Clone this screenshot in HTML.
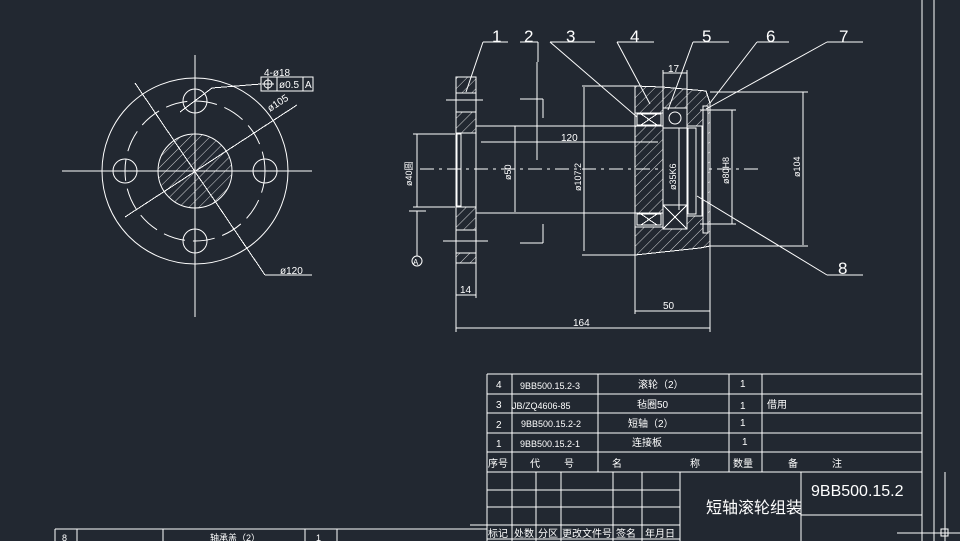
<!DOCTYPE html>
<html><head><meta charset="utf-8"><style>
html,body{margin:0;padding:0;background:#222831;}
svg{display:block}
text{font-family:"Liberation Sans","Noto Sans CJK SC",sans-serif;fill:#fff;}
</style></head><body>
<svg width="960" height="541" viewBox="0 0 960 541" xmlns="http://www.w3.org/2000/svg">
<defs>
<pattern id="h" width="7" height="7" patternUnits="userSpaceOnUse" patternTransform="rotate(45)">
<line x1="0" y1="0" x2="0" y2="7" stroke="#fff" stroke-width="0.8"/></pattern>
</defs>
<rect width="960" height="541" fill="#222831"/>
<g stroke="#fff" stroke-width="1" fill="none" shape-rendering="crispEdges">
<line x1="922" y1="0" x2="922" y2="541"/><line x1="934" y1="0" x2="934" y2="541"/>
<line x1="945" y1="472" x2="945" y2="541"/><line x1="897" y1="533" x2="960" y2="533"/>
<rect x="941" y="529" width="7" height="7"/>

<line x1="62" y1="171" x2="312" y2="171"/><line x1="195" y1="55" x2="195" y2="317"/>
<line x1="297" y1="105" x2="125" y2="217"/>
<line x1="135" y1="83" x2="265" y2="275"/><line x1="265" y1="275" x2="312" y2="275"/>
<line x1="261" y1="84" x2="212" y2="88"/><line x1="212" y1="88" x2="180" y2="112"/>
<rect x="261" y="77" width="52" height="14"/><line x1="277" y1="77" x2="277" y2="91"/><line x1="303" y1="77" x2="303" y2="91"/>
<line x1="262" y1="84" x2="274" y2="84"/><line x1="268" y1="78" x2="268" y2="90"/>

<line x1="420" y1="169" x2="760" y2="169" stroke-dasharray="14 5 3 5"/>
<rect x="456" y="77" width="20" height="186"/>
<rect x="456" y="77" width="20" height="16" fill="url(#h)"/>
<rect x="456" y="112" width="20" height="21" fill="url(#h)"/>
<rect x="456" y="207" width="20" height="23" fill="url(#h)"/>
<rect x="456" y="253" width="20" height="10" fill="url(#h)"/>
<rect x="457" y="134" width="4" height="72"/>
<line x1="446" y1="100" x2="483" y2="100"/><line x1="443" y1="241" x2="488" y2="241"/>
<line x1="476" y1="126" x2="663" y2="126"/><line x1="476" y1="213" x2="663" y2="213"/>
<line x1="413" y1="134" x2="455" y2="134"/><line x1="413" y1="207" x2="455" y2="207"/>
<line x1="417" y1="134" x2="417" y2="207"/>
<line x1="409" y1="211" x2="426" y2="211"/><line x1="417" y1="211" x2="417" y2="256"/>
<line x1="520" y1="99" x2="543" y2="99"/><line x1="543" y1="99" x2="543" y2="118"/>
<line x1="520" y1="243" x2="543" y2="243"/><line x1="543" y1="224" x2="543" y2="243"/>
<line x1="537" y1="62" x2="537" y2="160"/>
<path d="M635 86 L662 87 L706 91 L710 103 L710 246 L700 248 L635 255 Z" fill="url(#h)"/>
<rect x="635" y="113" width="28" height="13" fill="#222831"/>
<rect x="635" y="213" width="28" height="14" fill="#222831"/>
<rect x="637" y="114" width="24" height="11"/><path d="M641 114 L657 125 M657 114 L641 125"/>
<rect x="637" y="214" width="24" height="11"/><path d="M641 214 L657 225 M657 214 L641 225"/>
<rect x="663" y="108" width="24" height="121" fill="#222831"/>
<rect x="663" y="108" width="24" height="20"/>
<rect x="663" y="205" width="24" height="24"/><path d="M663 205 L687 229 M687 205 L663 229"/>
<rect x="687" y="126" width="15" height="90" fill="#222831"/>
<rect x="688" y="128" width="8" height="86"/>
<rect x="703" y="106" width="5" height="127" fill="#222831"/>
<line x1="582" y1="86" x2="635" y2="86"/><line x1="582" y1="255" x2="635" y2="255"/>
<line x1="710" y1="92" x2="808" y2="92"/><line x1="710" y1="246" x2="808" y2="246"/>
<line x1="700" y1="110" x2="736" y2="110"/><line x1="700" y1="224" x2="736" y2="224"/>
<line x1="584" y1="87" x2="584" y2="251"/><line x1="515" y1="126" x2="515" y2="212"/>
<line x1="679" y1="128" x2="679" y2="210"/><line x1="732" y1="110" x2="732" y2="224"/>
<line x1="803" y1="92" x2="803" y2="245"/>
<line x1="481" y1="142" x2="658" y2="142"/>
<line x1="456" y1="263" x2="456" y2="332"/><line x1="476" y1="263" x2="476" y2="298"/>
<line x1="456" y1="295" x2="476" y2="295"/>
<line x1="635" y1="255" x2="635" y2="314"/><line x1="710" y1="246" x2="710" y2="332"/>
<line x1="635" y1="311" x2="710" y2="311"/><line x1="456" y1="328" x2="710" y2="328"/>
<line x1="663" y1="70" x2="663" y2="108"/><line x1="687" y1="70" x2="687" y2="108"/>
<line x1="663" y1="73" x2="687" y2="73"/>
<line x1="483" y1="42" x2="508" y2="42"/><line x1="520" y1="42" x2="538" y2="42"/><line x1="538" y1="42" x2="538" y2="62"/>
<line x1="550" y1="42" x2="595" y2="42"/><line x1="617" y1="42" x2="654" y2="42"/>
<line x1="693" y1="42" x2="729" y2="42"/><line x1="757" y1="42" x2="789" y2="42"/>
<line x1="827" y1="42" x2="863" y2="42"/><line x1="827" y1="275" x2="863" y2="275"/>

<line x1="487" y1="374" x2="922" y2="374"/><line x1="487" y1="394" x2="922" y2="394"/>
<line x1="487" y1="413" x2="922" y2="413"/><line x1="487" y1="433" x2="922" y2="433"/>
<line x1="487" y1="452" x2="922" y2="452"/><line x1="487" y1="472" x2="922" y2="472"/>
<line x1="487" y1="374" x2="487" y2="541"/><line x1="512" y1="374" x2="512" y2="541"/>
<line x1="598" y1="374" x2="598" y2="472"/><line x1="729" y1="374" x2="729" y2="472"/>
<line x1="762" y1="374" x2="762" y2="472"/>
<line x1="487" y1="490" x2="680" y2="490"/><line x1="487" y1="507" x2="680" y2="507"/>
<line x1="470" y1="525" x2="680" y2="525"/><line x1="487" y1="539" x2="680" y2="539"/>
<line x1="536" y1="472" x2="536" y2="541"/><line x1="561" y1="472" x2="561" y2="541"/>
<line x1="613" y1="472" x2="613" y2="541"/><line x1="642" y1="472" x2="642" y2="541"/>
<line x1="680" y1="472" x2="680" y2="541"/><line x1="801" y1="472" x2="801" y2="541"/>
<line x1="801" y1="515" x2="922" y2="515"/>
<line x1="55" y1="529" x2="487" y2="529"/><line x1="55" y1="529" x2="55" y2="541"/>
<line x1="77" y1="529" x2="77" y2="541"/><line x1="163" y1="529" x2="163" y2="541"/>
<line x1="305" y1="529" x2="305" y2="541"/><line x1="337" y1="529" x2="337" y2="541"/>
</g>
<g stroke="#fff" stroke-width="1" fill="none">
<circle cx="195" cy="171" r="93"/>
<circle cx="195" cy="171" r="70" stroke-dasharray="22 8"/>
<circle cx="195" cy="171" r="37" fill="url(#h)"/>
<circle cx="195" cy="101" r="12"/><circle cx="195" cy="241" r="12"/>
<circle cx="125" cy="171" r="12"/><circle cx="265" cy="171" r="12"/>
<circle cx="268" cy="84" r="4"/>
<circle cx="417" cy="261" r="5"/>
<circle cx="675" cy="118" r="6"/>
<line x1="483" y1="42" x2="466" y2="92"/>
<line x1="550" y1="42" x2="637" y2="117"/>
<line x1="617" y1="42" x2="650" y2="104"/>
<line x1="693" y1="42" x2="668" y2="110"/>
<line x1="757" y1="42" x2="710" y2="103"/>
<line x1="827" y1="42" x2="706" y2="109"/>
<line x1="827" y1="275" x2="697" y2="196"/>
</g>
<g font-size="11">
<text x="264" y="76" font-size="10">4-ø18</text>
<text x="279" y="88" font-size="10">ø0.5</text><text x="305" y="88" font-size="10">A</text>
<text x="270" y="112" font-size="10" transform="rotate(-33 270 112)">ø105</text>
<text x="280" y="274" font-size="10">ø120</text>
<text x="412" y="186" font-size="9" transform="rotate(-90 412 186)">ø40圆</text>
<text x="413" y="265" font-size="8">A</text>
<text x="511" y="180" font-size="9" transform="rotate(-90 511 180)">ø50</text>
<text x="581" y="191" font-size="9" transform="rotate(-90 581 191)">ø107.2</text>
<text x="676" y="190" font-size="9" transform="rotate(-90 676 190)">ø35K6</text>
<text x="729" y="184" font-size="9" transform="rotate(-90 729 184)">ø80H8</text>
<text x="800" y="177" font-size="9" transform="rotate(-90 800 177)">ø104</text>
<text x="561" y="141" font-size="10">120</text>
<text x="460" y="293" font-size="10">14</text>
<text x="663" y="309" font-size="10">50</text>
<text x="573" y="326" font-size="10">164</text>
<text x="668" y="72" font-size="10">17</text>
</g>
<g font-size="17">
<text x="492" y="42">1</text><text x="524" y="42">2</text><text x="566" y="42">3</text>
<text x="630" y="42">4</text><text x="702" y="42">5</text><text x="766" y="42">6</text>
<text x="839" y="42">7</text><text x="838" y="274">8</text>
</g>
<g font-size="10">
<text x="496" y="388">4</text><text x="520" y="389" font-size="9">9BB500.15.2-3</text><text x="638" y="388">滚轮（2）</text><text x="740" y="387">1</text>
<text x="496" y="408">3</text><text x="512" y="409" font-size="9">JB/ZQ4606-85</text><text x="637" y="408">毡圈50</text><text x="740" y="409">1</text><text x="767" y="408">借用</text>
<text x="496" y="428">2</text><text x="521" y="427" font-size="9">9BB500.15.2-2</text><text x="628" y="427">短轴（2）</text><text x="740" y="426">1</text>
<text x="496" y="447">1</text><text x="520" y="447" font-size="9">9BB500.15.2-1</text><text x="632" y="446">连接板</text><text x="742" y="445">1</text>
<text x="488" y="467">序号</text><text x="530" y="467">代</text><text x="564" y="467">号</text>
<text x="612" y="467">名</text><text x="690" y="467">称</text><text x="733" y="467">数量</text>
<text x="788" y="467">备</text><text x="832" y="467">注</text>
<text x="488" y="537">标记</text><text x="514" y="537">处数</text><text x="538" y="537">分区</text>
<text x="562" y="537">更改文件号</text><text x="616" y="537">签名</text><text x="645" y="537">年月日</text>
</g>
<text x="706" y="513" font-size="16">短轴滚轮组装</text>
<text x="811" y="496" font-size="16">9BB500.15.2</text>
<text x="62" y="541" font-size="9">8</text><text x="210" y="541" font-size="9">轴承盖（2）</text><text x="316" y="541" font-size="9">1</text>
</svg>
</body></html>
